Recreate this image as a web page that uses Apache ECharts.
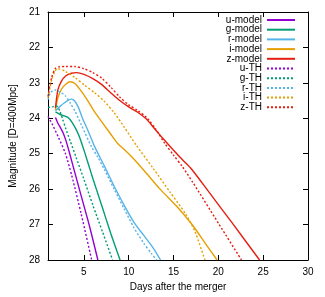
<!DOCTYPE html>
<html><head><meta charset="utf-8">
<script src="https://cdn.jsdelivr.net/npm/echarts@6/dist/echarts.min.js"></script>
<style>html,body{margin:0;padding:0;background:#fff}#c{width:325px;height:297px}</style>
</head><body><div id="c"></div>
<script>
// [day, magnitude] pairs
const uModel = [[1.83,23.98],[2.1,24.14],[2.4,24.27],[2.7,24.42],[3.0,24.63],[3.4,24.98],[3.9,25.45],[4.6,26.1],[5.6,27.02],[6.56,28.0]];
const gModel = [[1.83,23.82],[2.4,23.9],[2.9,23.94],[3.3,23.99],[3.7,24.12],[4.1,24.3],[4.5,24.52],[5.1,24.97],[5.84,25.57],[7.0,26.47],[8.0,27.25],[9.04,28.0]];
const rModel = [[1.83,23.79],[2.4,23.65],[2.8,23.57],[3.2,23.5],[3.6,23.46],[4.0,23.52],[4.4,23.7],[4.8,23.97],[5.46,24.35],[6.2,24.8],[7.29,25.35],[8.38,25.92],[9.48,26.45],[10.57,26.93],[11.66,27.3],[12.76,27.67],[13.55,28.0]];
const iModel = [[1.83,23.76],[2.1,23.42],[2.5,23.18],[3.0,23.03],[3.5,22.97],[4.0,23.02],[4.6,23.2],[5.3,23.45],[6.2,23.82],[7.2,24.17],[8.0,24.45],[8.8,24.72],[9.5,24.88],[10.2,25.05],[11.0,25.27],[12.0,25.56],[13.5,26.0],[15.3,26.47],[17.13,27.02],[18.6,27.55],[19.86,28.0]];
const zModel = [[1.83,23.71],[2.1,23.2],[2.5,22.95],[3.0,22.8],[3.6,22.73],[4.2,22.71],[5.0,22.76],[6.0,22.88],[7.0,23.05],[8.0,23.28],[9.0,23.5],[10.0,23.68],[11.0,23.83],[12.0,24.03],[13.0,24.33],[14.0,24.62],[15.0,24.9],[16.0,25.17],[17.0,25.43],[19.0,26.1],[21.5,26.94],[24.6,28.0]];
const uTH = [[1,23.95],[1.5,24.18],[2.2,24.56],[2.92,24.98],[3.65,25.62],[4.7,26.7],[5.87,28.0]];
const gTH = [[1,23.7],[1.6,23.67],[2.0,23.66],[2.35,23.82],[2.65,24.04],[2.95,24.27],[3.5,24.66],[4.1,25.08],[5.0,25.72],[6.0,26.45],[7.1,27.22],[8.2,28.0]];
const rTH = [[1,23.47],[1.3,23.27],[1.8,23.2],[2.4,23.27],[2.92,23.36],[3.5,23.58],[4.01,23.8],[4.74,24.2],[5.84,24.8],[6.56,25.1],[7.29,25.45],[8.38,26.0],[9.48,26.55],[10.57,27.08],[11.66,27.52],[12.54,27.82],[13.12,28.0]];
const iTH = [[1,23.42],[1.4,22.92],[1.8,22.66],[2.1,22.6],[2.9,22.67],[4.0,22.85],[5.1,23.07],[6.2,23.28],[7.3,23.53],[8.4,23.85],[9.5,24.25],[10.9,24.78],[12.75,25.42],[14.6,26.08],[16.4,26.72],[17.4,27.2],[18.5,28.0]];
const zTH = [[1,23.38],[1.4,22.85],[1.8,22.6],[2.2,22.55],[3.0,22.54],[4.0,22.54],[5.0,22.6],[6.0,22.71],[7.0,22.87],[8.0,23.12],[9.0,23.4],[10.0,23.62],[11.0,23.78],[12.0,23.98],[13.0,24.3],[14.0,24.7],[15.0,25.04],[16.0,25.37],[17.13,25.8],[20.0,26.96],[22.58,28.0]];

const names = ['u-model','g-model','r-model','i-model','z-model','u-TH','g-TH','r-TH','i-TH','z-TH'];
const seriesData = [uModel,gModel,rModel,iModel,zModel,uTH,gTH,rTH,iTH,zTH];
const colors = ['#9400d3','#009e73','#56b4e9','#e69f00','#e51e10'];
const xTicks = [5,10,15,20,25,30];
const xMin = 1, xMax = 30, yMin = 21, yMax = 28;

const font = 'Liberation Sans';
const chart = echarts.init(document.getElementById('c'), null, {renderer:'canvas'});
const series = seriesData.map((d,i)=>({
  name: names[i], type:'line', data:d, symbol:'none', smooth:0.25,
  xAxisIndex:0, yAxisIndex:0,
  lineStyle:{color:colors[i%5], width:1.4, type: i<5 ? 'solid' : [2,2]},
  itemStyle:{color:colors[i%5]}
}));
const axLine = {show:true, lineStyle:{color:'#000', width:1}};
chart.setOption({
  animation:false,
  textStyle:{fontFamily:font},
  grid:{left:42, right:17, top:12, bottom:32, containLabel:false},
  legend:{
    orient:'vertical', right:29, top:15, align:'right', padding:0,
    itemWidth:28, itemHeight:8, itemGap:-0.3,
    itemStyle:{opacity:0},
    textStyle:{fontFamily:font, fontSize:10, color:'#000', lineHeight:10},
    data:names
  },
  xAxis:[
    {type:'value', min:xMin, max:xMax, position:'bottom',
     name:'Days after the merger', nameLocation:'middle', nameGap:22,
     nameTextStyle:{fontFamily:font, fontSize:10, color:'#000'},
     axisLine:axLine,
     axisTick:{show:true, inside:true, length:5, customValues:xTicks, lineStyle:{color:'#000'}},
     axisLabel:{customValues:xTicks, fontFamily:font, fontSize:10, color:'#000', margin:7},
     splitLine:{show:false}},
    {type:'value', min:xMin, max:xMax, position:'top',
     axisLine:axLine,
     axisTick:{show:true, inside:true, length:5, customValues:xTicks, lineStyle:{color:'#000'}},
     axisLabel:{show:false}, splitLine:{show:false}}
  ],
  yAxis:[
    {type:'value', min:yMin, max:yMax, interval:1, inverse:true, position:'left',
     name:'Magnitude [D=400Mpc]', nameLocation:'middle', nameGap:30, nameRotate:90,
     nameTextStyle:{fontFamily:font, fontSize:10, color:'#000'},
     axisLine:axLine,
     axisTick:{show:true, inside:true, length:5, lineStyle:{color:'#000'}},
     axisLabel:{fontFamily:font, fontSize:10, color:'#000', margin:8},
     splitLine:{show:false}},
    {type:'value', min:yMin, max:yMax, interval:1, inverse:true, position:'right',
     axisLine:axLine,
     axisTick:{show:true, inside:true, length:5, lineStyle:{color:'#000'}},
     axisLabel:{show:false}, splitLine:{show:false}}
  ],
  series: series
});
</script></body></html>
